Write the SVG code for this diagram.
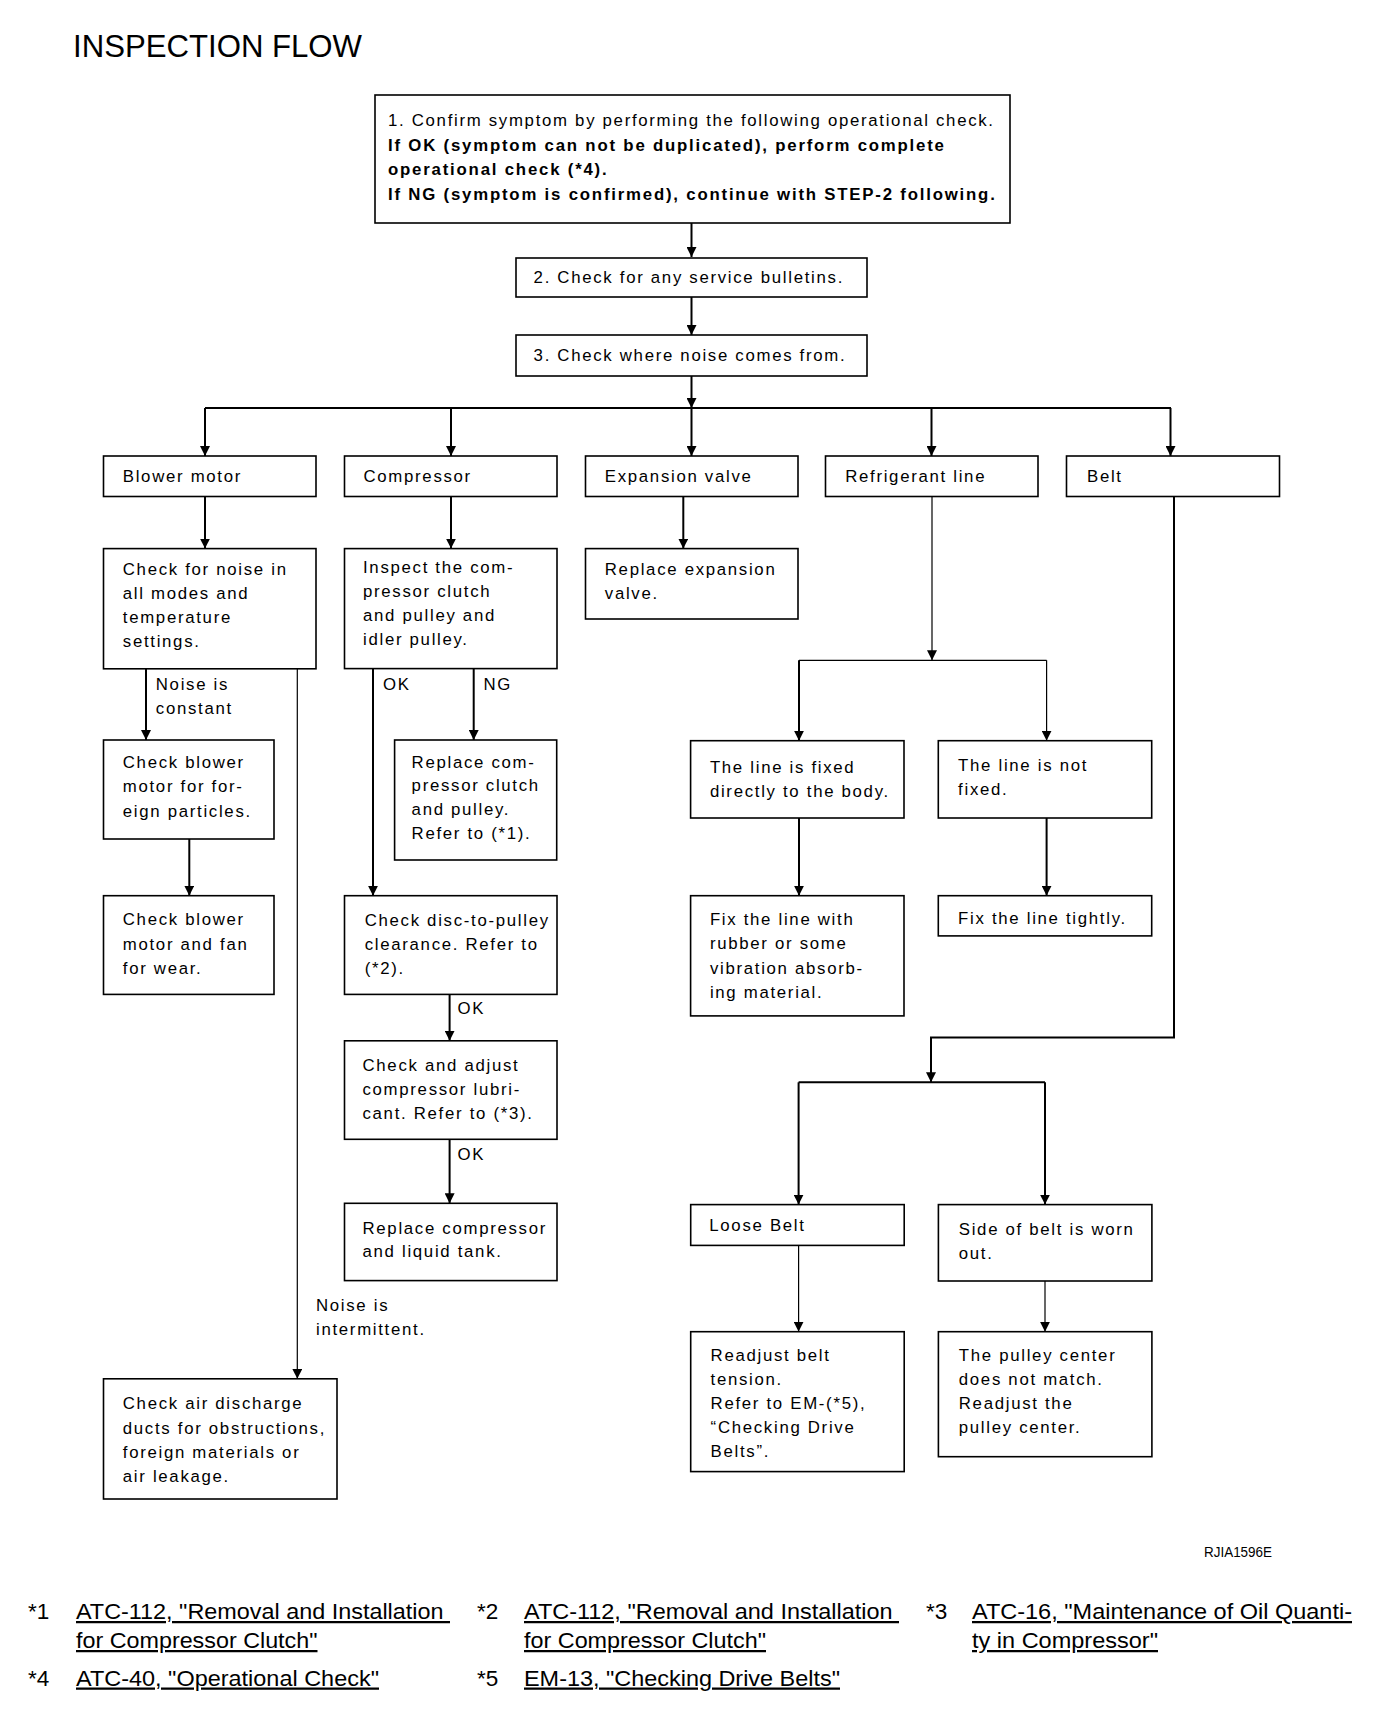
<svg xmlns="http://www.w3.org/2000/svg" width="1376" height="1710" viewBox="0 0 1376 1710">
<style>
.bg{fill:#fff}
.box{fill:#fff;stroke:#000;stroke-width:1.6}
.t{font-family:"Liberation Sans",Arial,Helvetica,sans-serif;font-size:16.8px;letter-spacing:1.7px;fill:#000}
.b{font-weight:bold;letter-spacing:1.8px}
.c{stroke:#000;stroke-width:2;fill:none}
.thin{stroke-width:1.2}
.fn{font-family:"Liberation Sans",Arial,Helvetica,sans-serif;font-size:22.5px;fill:#000}
.u{text-decoration:underline}
.title{font-family:"Liberation Sans",Arial,Helvetica,sans-serif;font-size:32px;fill:#000}
</style>
<defs>
<marker id="ah" viewBox="0 0 10 10" refX="10" refY="5" markerWidth="10" markerHeight="10" markerUnits="userSpaceOnUse" orient="auto">
<path d="M0,0 L10,5 L0,10 z" fill="#000"/>
</marker>
</defs>
<rect class="bg" x="0" y="0" width="1376" height="1710"/>
<text class="title" x="73" y="57" textLength="289" lengthAdjust="spacingAndGlyphs">INSPECTION FLOW</text>

<g id="connectors">
<path class="c" d="M691.5,223 V257" marker-end="url(#ah)"/>
<path class="c" d="M691.5,297 V335" marker-end="url(#ah)"/>
<path class="c" d="M691.5,376 V408" marker-end="url(#ah)"/>
<path class="c" d="M205,408 H1171"/>
<path class="c" d="M205,408 V456" marker-end="url(#ah)"/>
<path class="c" d="M451,408 V456" marker-end="url(#ah)"/>
<path class="c" d="M691.5,408 V456" marker-end="url(#ah)"/>
<path class="c" d="M931.5,408 V456" marker-end="url(#ah)"/>
<path class="c" d="M1170.5,408 V456" marker-end="url(#ah)"/>
<path class="c" d="M205,496.5 V548.6" marker-end="url(#ah)"/>
<path class="c" d="M451,496.5 V548.6" marker-end="url(#ah)"/>
<path class="c" d="M683.3,496.5 V548.6" marker-end="url(#ah)"/>
<path class="c" d="M146,668.8 V740" marker-end="url(#ah)"/>
<path class="c" d="M189.3,839 V895.7" marker-end="url(#ah)"/>
<path class="c thin" d="M297.3,668.8 V1378.8" marker-end="url(#ah)"/>
<path class="c" d="M373,668.5 V895.7" marker-end="url(#ah)"/>
<path class="c" d="M473.7,668.5 V740" marker-end="url(#ah)"/>
<path class="c" d="M449.6,994.4 V1040.8" marker-end="url(#ah)"/>
<path class="c" d="M449.6,1139.3 V1203.3" marker-end="url(#ah)"/>
<path class="c thin" d="M932,496.5 V660.3" marker-end="url(#ah)"/>
<path class="c thin" d="M799,660.3 H1046.6"/>
<path class="c" d="M799,660.3 V740.7" marker-end="url(#ah)"/>
<path class="c thin" d="M1046.6,660.3 V740.7" marker-end="url(#ah)"/>
<path class="c" d="M799,818 V895.7" marker-end="url(#ah)"/>
<path class="c" d="M1046.6,818 V895.7" marker-end="url(#ah)"/>
<path class="c" d="M1174,496.5 V1037.5 H931 V1082.3" marker-end="url(#ah)"/>
<path class="c" d="M798.6,1082.3 H1045"/>
<path class="c" d="M798.6,1082.3 V1204.6" marker-end="url(#ah)"/>
<path class="c" d="M1045,1082.3 V1204.6" marker-end="url(#ah)"/>
<path class="c thin" d="M798.6,1245.4 V1331.7" marker-end="url(#ah)"/>
<path class="c thin" d="M1045,1281 V1331.7" marker-end="url(#ah)"/>
<text class="t" x="155.8" y="690">Noise is</text>
<text class="t" x="155.8" y="714">constant</text>
<text class="t" x="316" y="1311">Noise is</text>
<text class="t" x="316" y="1335">intermittent.</text>
<text class="t" x="383" y="690">OK</text>
<text class="t" x="483.5" y="690">NG</text>
<text class="t" x="457.6" y="1014">OK</text>
<text class="t" x="457.6" y="1160">OK</text>
</g>

<g id="step1">
<rect class="box" x="375" y="95" width="635" height="128"/>
<text class="t" x="388" y="126">1. Confirm symptom by performing the following operational check.</text>
<text class="t b" x="388" y="150.5">If OK (symptom can not be duplicated), perform complete</text>
<text class="t b" x="388" y="174.5">operational check (*4).</text>
<text class="t b" x="388" y="200">If NG (symptom is confirmed), continue with STEP-2 following.</text>
</g>
<g id="step2">
<rect class="box" x="516" y="258" width="351" height="39"/>
<text class="t" x="533.6" y="283">2. Check for any service bulletins.</text>
</g>
<g id="step3">
<rect class="box" x="516" y="335" width="351" height="41"/>
<text class="t" x="533.6" y="361">3. Check where noise comes from.</text>
</g>

<g id="blower-motor">
<rect class="box" x="103.5" y="456" width="212.5" height="40.5"/>
<text class="t" x="122.8" y="482.4">Blower motor</text>
</g>
<g id="compressor">
<rect class="box" x="344.5" y="456" width="212.5" height="40.5"/>
<text class="t" x="363.5" y="482.4">Compressor</text>
</g>
<g id="expansion-valve">
<rect class="box" x="585.5" y="456" width="212.5" height="40.5"/>
<text class="t" x="604.8" y="482.4">Expansion valve</text>
</g>
<g id="refrigerant-line">
<rect class="box" x="825.5" y="456" width="212.5" height="40.5"/>
<text class="t" x="845.2" y="482.4">Refrigerant line</text>
</g>
<g id="belt">
<rect class="box" x="1066.5" y="456" width="213" height="40.5"/>
<text class="t" x="1087" y="482.4">Belt</text>
</g>

<g id="check-noise">
<rect class="box" x="103.5" y="548.6" width="212.5" height="120.2"/>
<text class="t" x="122.8" y="575">Check for noise in</text>
<text class="t" x="122.8" y="599">all modes and</text>
<text class="t" x="122.8" y="623">temperature</text>
<text class="t" x="122.8" y="647">settings.</text>
</g>
<g id="inspect-clutch">
<rect class="box" x="344.5" y="548.6" width="212.5" height="120"/>
<text class="t" x="363" y="573">Inspect the com-</text>
<text class="t" x="363" y="597">pressor clutch</text>
<text class="t" x="363" y="621">and pulley and</text>
<text class="t" x="363" y="645">idler pulley.</text>
</g>
<g id="replace-expansion">
<rect class="box" x="585.5" y="548.6" width="212.5" height="70.4"/>
<text class="t" x="604.8" y="575">Replace expansion</text>
<text class="t" x="604.8" y="599">valve.</text>
</g>

<g id="check-blower-particles">
<rect class="box" x="103.5" y="740" width="170.5" height="99"/>
<text class="t" x="122.8" y="768">Check blower</text>
<text class="t" x="122.8" y="792.4">motor for for-</text>
<text class="t" x="122.8" y="816.5">eign particles.</text>
</g>
<g id="check-blower-wear">
<rect class="box" x="103.5" y="895.7" width="170.5" height="98.7"/>
<text class="t" x="122.8" y="925">Check blower</text>
<text class="t" x="122.8" y="950">motor and fan</text>
<text class="t" x="122.8" y="974">for wear.</text>
</g>
<g id="check-air-discharge">
<rect class="box" x="103.5" y="1378.8" width="233.5" height="120.2"/>
<text class="t" x="122.8" y="1409">Check air discharge</text>
<text class="t" x="122.8" y="1433.5">ducts for obstructions,</text>
<text class="t" x="122.8" y="1457.7">foreign materials or</text>
<text class="t" x="122.8" y="1481.6">air leakage.</text>
</g>

<g id="replace-clutch">
<rect class="box" x="394.6" y="740" width="162.1" height="120"/>
<text class="t" x="411.6" y="767.5">Replace com-</text>
<text class="t" x="411.6" y="791">pressor clutch</text>
<text class="t" x="411.6" y="815">and pulley.</text>
<text class="t" x="411.6" y="839.4">Refer to (*1).</text>
</g>
<g id="check-disc">
<rect class="box" x="344.5" y="895.7" width="212.5" height="98.7"/>
<text class="t" x="364.7" y="926">Check disc-to-pulley</text>
<text class="t" x="364.7" y="950">clearance. Refer to</text>
<text class="t" x="364.7" y="974">(*2).</text>
</g>
<g id="check-lubricant">
<rect class="box" x="344.5" y="1040.8" width="212.5" height="98.5"/>
<text class="t" x="362.5" y="1070.6">Check and adjust</text>
<text class="t" x="362.5" y="1095.2">compressor lubri-</text>
<text class="t" x="362.5" y="1119.4">cant. Refer to (*3).</text>
</g>
<g id="replace-compressor">
<rect class="box" x="344.5" y="1203.3" width="212.5" height="77.3"/>
<text class="t" x="362.5" y="1233.5">Replace compressor</text>
<text class="t" x="362.5" y="1257">and liquid tank.</text>
</g>

<g id="line-fixed">
<rect class="box" x="690.6" y="740.7" width="213.4" height="77.3"/>
<text class="t" x="709.9" y="772.8">The line is fixed</text>
<text class="t" x="709.9" y="797">directly to the body.</text>
</g>
<g id="line-not-fixed">
<rect class="box" x="938.3" y="740.7" width="213.4" height="77.3"/>
<text class="t" x="958.1" y="771">The line is not</text>
<text class="t" x="958.1" y="795">fixed.</text>
</g>
<g id="fix-rubber">
<rect class="box" x="690.6" y="895.7" width="213.4" height="120.2"/>
<text class="t" x="709.9" y="925">Fix the line with</text>
<text class="t" x="709.9" y="949">rubber or some</text>
<text class="t" x="709.9" y="973.8">vibration absorb-</text>
<text class="t" x="709.9" y="998">ing material.</text>
</g>
<g id="fix-tightly">
<rect class="box" x="938.3" y="895.7" width="213.4" height="40.2"/>
<text class="t" x="958.1" y="923.6">Fix the line tightly.</text>
</g>

<g id="loose-belt">
<rect class="box" x="690.7" y="1204.6" width="213.5" height="40.8"/>
<text class="t" x="709.3" y="1230.5">Loose Belt</text>
</g>
<g id="belt-worn">
<rect class="box" x="938.4" y="1204.6" width="213.5" height="76.4"/>
<text class="t" x="958.8" y="1234.8">Side of belt is worn</text>
<text class="t" x="958.8" y="1258.7">out.</text>
</g>
<g id="readjust-tension">
<rect class="box" x="690.7" y="1331.7" width="213.5" height="139.9"/>
<text class="t" x="710.6" y="1360.5">Readjust belt</text>
<text class="t" x="710.6" y="1384.7">tension.</text>
<text class="t" x="710.6" y="1409">Refer to EM-(*5),</text>
<text class="t" x="710.6" y="1432.8">“Checking Drive</text>
<text class="t" x="710.6" y="1457">Belts”.</text>
</g>
<g id="pulley-center">
<rect class="box" x="938.4" y="1331.7" width="213.5" height="125"/>
<text class="t" x="958.8" y="1360.9">The pulley center</text>
<text class="t" x="958.8" y="1384.7">does not match.</text>
<text class="t" x="958.8" y="1409">Readjust the</text>
<text class="t" x="958.8" y="1432.8">pulley center.</text>
</g>

<text class="fn" x="1204" y="1557" style="font-size:15px" textLength="68" lengthAdjust="spacingAndGlyphs">RJIA1596E</text>

<g id="footnotes">
<text class="fn" x="28" y="1619">*1</text>
<text class="fn u" x="76" y="1619" textLength="374" lengthAdjust="spacingAndGlyphs">ATC-112, "Removal and Installation&#160;</text>
<text class="fn u" x="76" y="1648" textLength="241.5" lengthAdjust="spacingAndGlyphs">for Compressor Clutch"</text>
<text class="fn" x="477" y="1619">*2</text>
<text class="fn u" x="524" y="1619" textLength="375" lengthAdjust="spacingAndGlyphs">ATC-112, "Removal and Installation&#160;</text>
<text class="fn u" x="524" y="1648" textLength="242" lengthAdjust="spacingAndGlyphs">for Compressor Clutch"</text>
<text class="fn" x="926" y="1619">*3</text>
<text class="fn u" x="972" y="1619" textLength="380" lengthAdjust="spacingAndGlyphs">ATC-16, "Maintenance of Oil Quanti-</text>
<text class="fn u" x="972" y="1648" textLength="186" lengthAdjust="spacingAndGlyphs">ty in Compressor"</text>
<text class="fn" x="28" y="1685.5">*4</text>
<text class="fn u" x="76" y="1685.5" textLength="303" lengthAdjust="spacingAndGlyphs">ATC-40, "Operational Check"</text>
<text class="fn" x="477" y="1685.5">*5</text>
<text class="fn u" x="524" y="1685.5" textLength="316" lengthAdjust="spacingAndGlyphs">EM-13, "Checking Drive Belts"</text>
</g>
</svg>
